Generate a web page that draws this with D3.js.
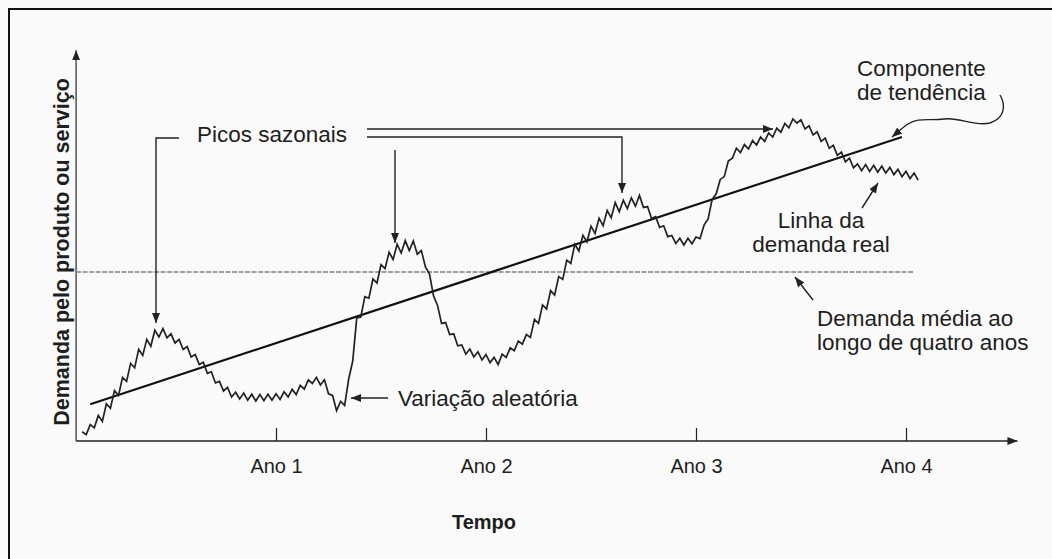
<!DOCTYPE html>
<html>
<head>
<meta charset="utf-8">
<script src="https://cdn.jsdelivr.net/npm/d3@7"></script>
<style>
body { margin: 0; background: #fff; }
text { font-family: "Liberation Sans", Arial, sans-serif; fill: #1e1e1e; }
</style>
</head>
<body>
<div id="chart"></div>
<script>
// demand vs time, seasonal + trend + random variation
var svgWidth = 1052;
var svgHeight = 559;

// x in weeks (52 per year)
var anos = ["Ano 1", "Ano 2", "Ano 3", "Ano 4"];
var semanasAno = [52, 104, 156, 208];

// actual demand, one value per week starting at week 4
var semanaInicial = 4;
var demanda = [
  2.3, 1.6, 4.1, 3.3, 6.4, 4.9, 9.3, 8.2, 12.6, 11.4,
  15.9, 14.9, 19.4, 18.3, 22.9, 21.4, 25.4, 23.7, 27.7, 26.0,
  28.1, 25.8, 26.8, 24.5, 25.4, 22.9, 23.6, 21.0, 21.6, 19.1,
  19.7, 16.9, 17.3, 14.5, 14.9, 12.5, 13.4, 11.0, 12.2, 10.5,
  12.0, 10.2, 11.7, 10.0, 11.6, 10.1, 11.7, 10.2, 11.8, 10.4,
  12.3, 11.0, 12.9, 11.6, 13.9, 13.0, 15.3, 14.4, 15.9, 14.0,
  15.3, 11.8, 11.4, 7.6, 9.9, 8.9, 15.5, 20.0, 30.8, 31.0,
  36.1, 35.7, 40.5, 39.5, 44.1, 43.1, 47.2, 45.4, 49.2, 47.0,
  50.1, 47.6, 50.0, 46.7, 47.6, 43.5, 41.8, 36.3, 33.9, 29.4,
  29.6, 26.6, 26.8, 23.8, 24.0, 21.7, 23.0, 21.0, 22.3, 20.3,
  21.6, 19.6, 20.9, 19.1, 21.7, 20.9, 23.3, 22.6, 25.0, 24.2,
  26.6, 25.9, 30.4, 29.4, 34.0, 33.0, 37.6, 36.5, 41.1, 40.4,
  45.2, 44.4, 49.2, 47.5, 51.4, 49.8, 53.7, 51.9, 55.7, 53.8,
  57.6, 55.8, 59.6, 57.3, 60.2, 58.1, 60.8, 58.7, 61.4, 58.4,
  58.6, 55.6, 56.1, 53.4, 53.8, 51.1, 51.4, 49.4, 50.7, 49.0,
  50.7, 49.3, 51.0, 50.6, 54.0, 55.5, 60.4, 61.8, 65.4, 66.1,
  70.0, 70.7, 73.2, 72.1, 74.1, 73.0, 75.1, 74.0, 76.0, 74.9,
  77.0, 76.0, 78.2, 77.2, 79.4, 78.3, 80.5, 79.5, 80.3, 78.0,
  78.8, 76.5, 77.3, 74.9, 75.7, 73.2, 73.9, 71.4, 72.2, 69.8,
  70.7, 68.3, 69.3, 67.6, 69.1, 67.4, 68.9, 67.2, 68.7, 67.0,
  68.4, 66.6, 67.9, 66.1, 67.4, 65.6, 67.0, 65.2
];

// trend component (start, end)
var tendencia = [[6, 9.2], [207, 76]];
// average demand over four years
var demandaMedia = 42.25;
var mediaFim = 210;

var svg = d3.select("#chart")
  .append("svg")
  .attr("width", svgWidth)
  .attr("height", svgHeight);

svg.append("rect")
  .attr("width", svgWidth)
  .attr("height", svgHeight)
  .attr("fill", "#fafafa");

// scan frame
svg.append("path")
  .attr("d", "M9,559 V9 H1052")
  .attr("fill", "none")
  .attr("stroke", "#111")
  .attr("stroke-width", 2);

var defs = svg.append("defs");
defs.append("marker")
  .attr("id", "seta")
  .attr("markerUnits", "userSpaceOnUse")
  .attr("viewBox", "0 0 10 8")
  .attr("markerWidth", 10)
  .attr("markerHeight", 8)
  .attr("refX", 10)
  .attr("refY", 4)
  .attr("orient", "auto")
  .append("path")
  .attr("d", "M0,0 L10,4 L0,8 Z")
  .attr("fill", "#222");

var xScale = d3.scaleLinear().domain([0, 208]).range([66, 906]);
var yScale = d3.scaleLinear().domain([0, 100]).range([441, 41]);

// axes
svg.append("line")
  .attr("x1", xScale(2.5)).attr("x2", xScale(235.6))
  .attr("y1", yScale(0)).attr("y2", yScale(0))
  .attr("stroke", "#222").attr("stroke-width", 1.4)
  .attr("marker-end", "url(#seta)");

svg.append("line")
  .attr("x1", xScale(2.5)).attr("x2", xScale(2.5))
  .attr("y1", yScale(0)).attr("y2", yScale(97.7))
  .attr("stroke", "#444").attr("stroke-width", 1.4)
  .attr("marker-end", "url(#seta)");

var bottomAxis = d3.axisBottom(xScale)
  .tickValues(semanasAno)
  .tickFormat(function(d, i) { return anos[i]; })
  .tickSizeInner(-13)
  .tickSizeOuter(0)
  .tickPadding(18);

var xAxis = svg.append("g")
  .attr("transform", `translate(0, ${yScale(0)})`)
  .call(bottomAxis);
xAxis.select(".domain").remove();
xAxis.selectAll(".tick line").attr("stroke", "#222").attr("stroke-width", 1.2);
xAxis.selectAll(".tick text")
  .style("font-family", "'Liberation Sans', Arial, sans-serif")
  .style("font-size", "20px")
  .attr("fill", "#1e1e1e");

// axis titles
svg.append("text")
  .attr("x", 484).attr("y", 529)
  .attr("text-anchor", "middle")
  .style("font-size", "20px").style("font-weight", "bold")
  .text("Tempo");

svg.append("text")
  .attr("transform", "translate(69, 252) rotate(-90)")
  .attr("text-anchor", "middle")
  .style("font-size", "21.5px").style("font-weight", "bold")
  .text("Demanda pelo produto ou serviço");

// average demand line
svg.append("line")
  .attr("x1", xScale(2.5)).attr("x2", xScale(mediaFim))
  .attr("y1", yScale(demandaMedia)).attr("y2", yScale(demandaMedia))
  .attr("stroke", "#808080").attr("stroke-width", 1.3)
  .attr("stroke-dasharray", "5,1.5");

// trend line
var linha = d3.line()
  .x(d => xScale(d[0]))
  .y(d => yScale(d[1]));

svg.append("path")
  .datum(tendencia)
  .attr("d", linha)
  .attr("fill", "none")
  .attr("stroke", "#111")
  .attr("stroke-width", 2.2);

// actual demand
var serie = demanda.map((v, i) => [semanaInicial + i, v]);
svg.append("path")
  .datum(serie)
  .attr("d", linha)
  .attr("fill", "none")
  .attr("stroke", "#222")
  .attr("stroke-width", 1.7)
  .attr("stroke-linejoin", "miter");

// annotations
var fs = "22.5px";

function seta(d) {
  svg.append("path")
    .attr("d", d)
    .attr("fill", "none")
    .attr("stroke", "#222")
    .attr("stroke-width", 1.4)
    .attr("marker-end", "url(#seta)");
}

svg.append("text").attr("x", 197).attr("y", 142)
  .style("font-size", fs).text("Picos sazonais");
seta("M179,138 H156 V323");
seta("M367,129 H773");
seta("M367,137 H622 V193");
seta("M395,150 V243");

svg.append("text").attr("x", 398).attr("y", 406)
  .style("font-size", fs).text("Variação aleatória");
seta("M388,398 H351");

svg.append("text").attr("x", 857).attr("y", 76)
  .style("font-size", fs).text("Componente");
svg.append("text").attr("x", 857).attr("y", 100)
  .style("font-size", fs).text("de tendência");
seta("M1000,95 C1006,105 1005,118 990,123 C975,127 960,117 944,119 C929,121 918,117 908,124 C902,128 898,132 892,137");

svg.append("text").attr("x", 821).attr("y", 228)
  .attr("text-anchor", "middle")
  .style("font-size", fs).text("Linha da");
svg.append("text").attr("x", 821).attr("y", 252)
  .attr("text-anchor", "middle")
  .style("font-size", fs).text("demanda real");
seta("M862,208 L878,183");

svg.append("text").attr("x", 817).attr("y", 326)
  .style("font-size", fs).text("Demanda média ao");
svg.append("text").attr("x", 817).attr("y", 350)
  .style("font-size", fs).text("longo de quatro anos");
seta("M813,300 L795,277");
</script>
</body>
</html>
